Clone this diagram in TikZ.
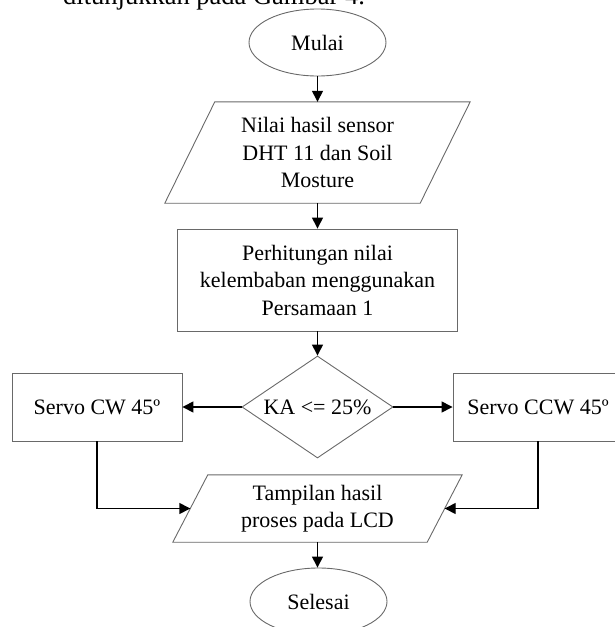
\documentclass[tikz,border=0pt]{standalone}
\usepackage{fontspec}
\setmainfont{Liberation Serif}
\usetikzlibrary{shapes.geometric,arrows.meta}
\definecolor{shapegray}{RGB}{105,105,105}
\tikzset{
  shp/.style={draw=shapegray, line width=0.9pt},
  txt/.style={font=\fontsize{22}{27.5}\selectfont, align=center, inner sep=0pt, text=black},
  conn/.style={draw=black, line width=1.4pt, -{Triangle[length=11pt,width=11pt]}},
  term/.style={shp, txt, ellipse, minimum width=137pt, minimum height=67pt},
  boxnode/.style={shp, txt, rectangle},
  ionode/.style={txt, rectangle},
  decnode/.style={shp, txt, diamond, aspect=1.48, minimum width=151pt, minimum height=102pt}
}
\begin{document}
\begin{tikzpicture}[x=1pt,y=-1pt]
\useasboundingbox (0,0) rectangle (614,627);
% cut-off body text above the figure
\node[anchor=base west, inner sep=0pt, font=\fontsize{26.5}{30}\selectfont] (caption) at (63,4) {ditunjukkan pada Gambar 4.};
% nodes
\node[term] (start) at (317.5,42.5) {Mulai};
\node[ionode, minimum width=255pt, minimum height=101pt] (in1) at (317.5,152.5) {Nilai hasil sensor\\DHT 11 dan Soil\\Mosture};
\draw[shp] ([xshift=25pt]in1.north west) -- ([xshift=25pt]in1.north east) -- ([xshift=-25pt]in1.south east) -- ([xshift=-25pt]in1.south west) -- cycle;
\node[boxnode, minimum width=280pt, minimum height=102pt] (proc) at (317.5,280) {Perhitungan nilai\\kelembaban menggunakan\\Persamaan 1};
\node[decnode] (dec) at (317.5,407) {KA <= 25\%};
\node[boxnode, minimum width=170pt, minimum height=68pt] (cw) at (97,407) {Servo CW 45º};
\node[boxnode, minimum width=170pt, minimum height=68pt] (ccw) at (538,407) {Servo CCW 45º};
\node[ionode, minimum width=254pt, minimum height=67pt] (out) at (317.5,508.5) {Tampilan hasil\\proses pada LCD};
\draw[shp] ([xshift=17.5pt]out.north west) -- ([xshift=17.5pt]out.north east) -- ([xshift=-17.5pt]out.south east) -- ([xshift=-17.5pt]out.south west) -- cycle;
\node[term] (stop) at (318.5,601.5) {Selesai};
% connectors
\draw[conn] (start.south) -- (in1.north);
\draw[conn] (in1.south) -- (proc.north);
\draw[conn] (proc.south) -- (dec.north);
\draw[conn] (dec.west) -- (cw.east);
\draw[conn] (dec.east) -- (ccw.west);
\draw[conn] (cw.south) |- (out.west);
\draw[conn] (ccw.south) |- (out.east);
\draw[conn] (out.south) -- (stop.north -| out.south);
\end{tikzpicture}
\end{document}
